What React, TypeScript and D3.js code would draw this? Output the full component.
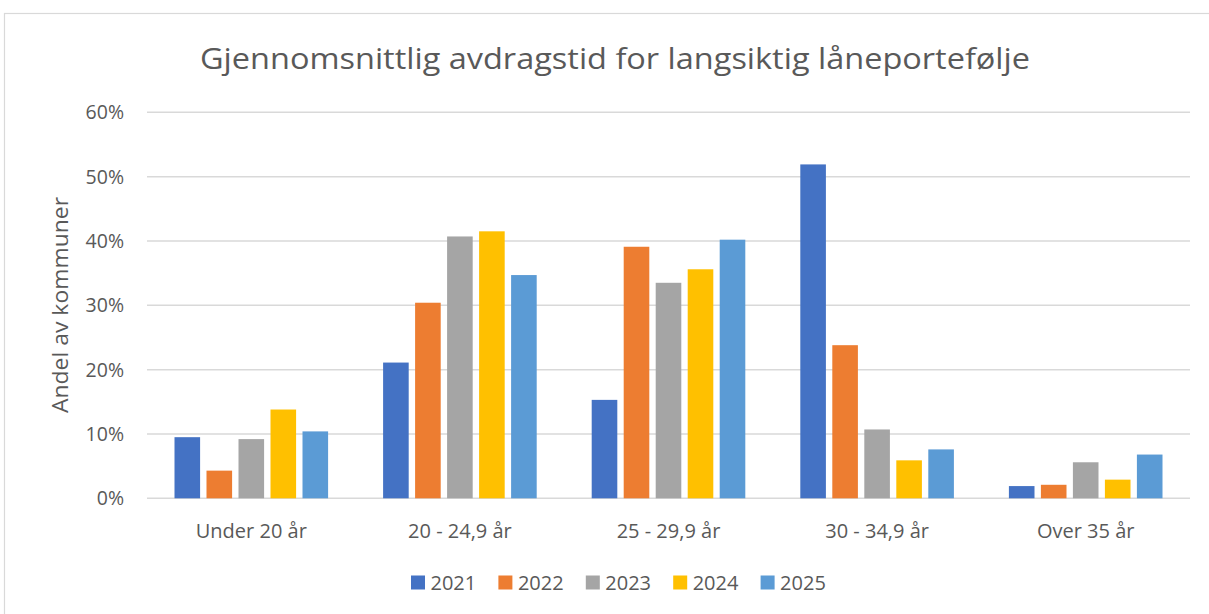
import React from "react";
import * as d3 from "d3";

const categories = ["Under 20 år", "20 - 24,9 år", "25 - 29,9 år", "30 - 34,9 år", "Over 35 år"];
const seriesNames = ["2021", "2022", "2023", "2024", "2025"];
const values2021 = [9.5, 21.1, 15.3, 51.9, 1.9];
const values2022 = [4.3, 30.4, 39.1, 23.8, 2.1];
const values2023 = [9.2, 40.7, 33.5, 10.7, 5.6];
const values2024 = [13.8, 41.5, 35.6, 5.9, 2.9];
const values2025 = [10.4, 34.7, 40.2, 7.6, 6.8];
const yTicks = [0, 10, 20, 30, 40, 50, 60];
const colors = ["#4472C4", "#ED7D31", "#A5A5A5", "#FFC000", "#5B9BD5"];

const W = 1209;
const H = 614;
const FONT = "'Open Sans', 'Noto Sans', sans-serif";
const TEXT = "#595959";

export default function App() {
  const series = [values2021, values2022, values2023, values2024, values2025];
  const left = 147, right = 1190, top = 112.3, bottom = 498.3;
  const x = d3.scaleBand<string>().domain(categories).range([left, right]).paddingInner(0).paddingOuter(0);
  const y = d3.scaleLinear().domain([0, 60]).range([bottom, top]);
  const bw = x.bandwidth();
  const step = 32;
  const barW = 25.6;

  return (
    <svg width={W} height={H} style={{ position: "absolute", left: 0, top: 0, background: "#fff" }}>
      <rect x={4.5} y={13.5} width={W + 10} height={H + 10} fill="#fff" stroke="#d9d9d9" strokeWidth={1.2} />
      <text x={615} y={69} textAnchor="middle" fontFamily={FONT} fontSize={30} fill={TEXT} textLength={830} lengthAdjust="spacingAndGlyphs">
        Gjennomsnittlig avdragstid for langsiktig låneportefølje
      </text>
      {yTicks.map((t) => (
        <g key={t}>
          <line x1={left} x2={right} y1={y(t)} y2={y(t)} stroke="#d9d9d9" strokeWidth={1.5} />
          <text x={124} y={y(t) + 7} textAnchor="end" fontFamily={FONT} fontSize={19.5} fill={TEXT}>
            {t}%
          </text>
        </g>
      ))}
      <text
        transform={`translate(68, 305) rotate(-90)`}
        textAnchor="middle"
        fontFamily={FONT}
        fontSize={22.5}
        fill={TEXT}
        textLength={216}
        lengthAdjust="spacingAndGlyphs"
      >
        Andel av kommuner
      </text>
      {categories.map((c, ci) => {
        const cx = (x(c) as number) + bw / 2;
        return (
          <g key={c}>
            {series.map((vals, si) => {
              const bx = cx + (si - 2) * step - barW / 2;
              return (
                <rect
                  key={si}
                  x={bx}
                  y={y(vals[ci])}
                  width={barW}
                  height={y(0) - y(vals[ci])}
                  fill={colors[si]}
                />
              );
            })}
            <text x={cx} y={538} textAnchor="middle" fontFamily={FONT} fontSize={20} fill={TEXT}>
              {c}
            </text>
          </g>
        );
      })}
      {seriesNames.map((s, i) => {
        const lx = 411 + i * 87.4;
        return (
          <g key={s}>
            <rect x={lx} y={575.5} width={14} height={14} fill={colors[i]} />
            <text x={lx + 19.5} y={590} fontFamily={FONT} fontSize={20} fill={TEXT}>
              {s}
            </text>
          </g>
        );
      })}
    </svg>
  );
}
